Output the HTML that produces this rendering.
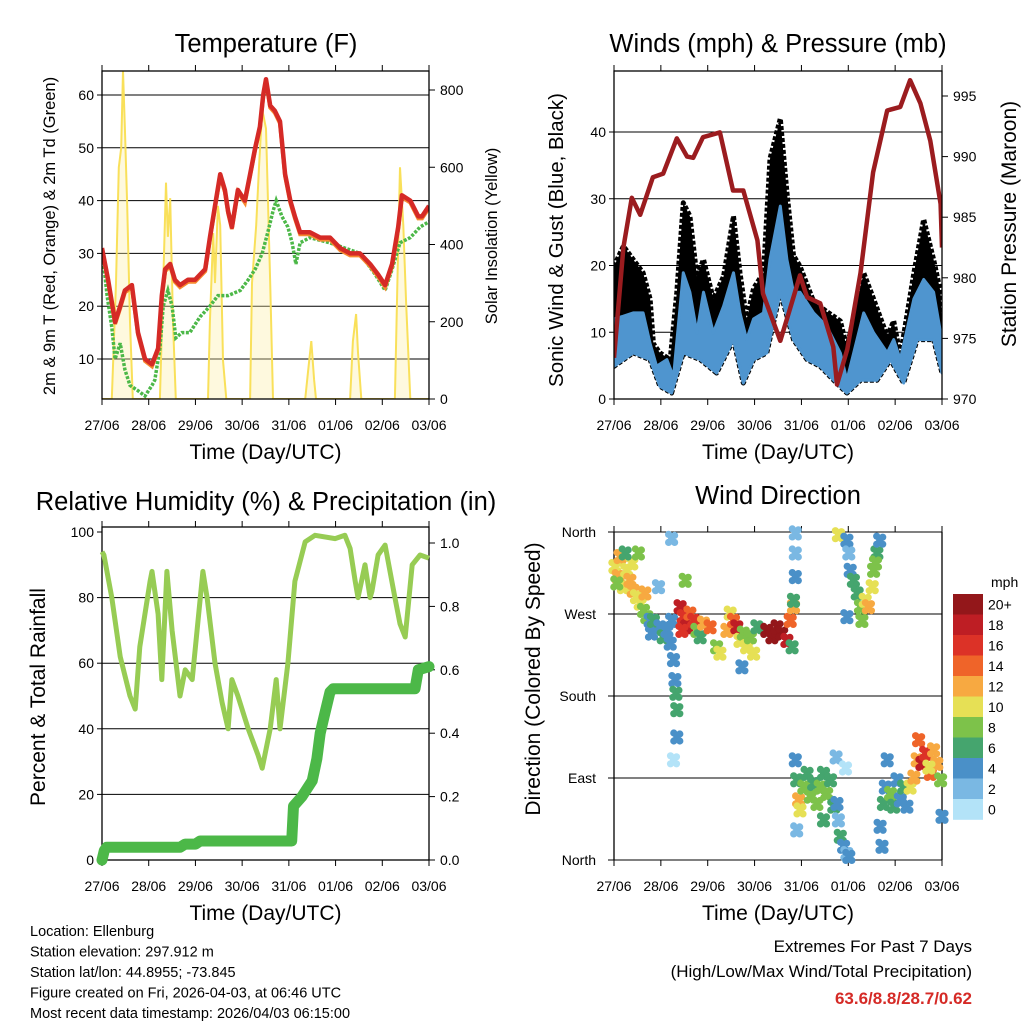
<!DOCTYPE html>
<html><head><meta charset="utf-8">
<style>
body{margin:0;background:#fff;font-family:"Liberation Sans",sans-serif;}
svg text{font-family:"Liberation Sans",sans-serif;fill:#000;}
</style></head>
<body>
<svg id="c" width="1024" height="1024" viewBox="0 0 1024 1024"></svg>
<script>
// ---- Temperature panel data ----
const tempT=[0,.13,.28,.39,.49,.64,.77,.92,1.07,1.2,1.28,1.35,1.46,1.56,1.67,1.84,1.99,2.21,2.31,2.42,2.53,2.63,2.7,2.78,2.91,3.06,3.17,3.28,3.38,3.45,3.51,3.6,3.7,3.81,3.92,4.03,4.13,4.24,4.45,4.67,4.88,5.1,5.31,5.52,5.74,5.91,6.06,6.21,6.34,6.42,6.6,6.77,6.85,7.0];
const tempV=[31,25,17,20,23,24,15,10,9,12,22,27,28,25,24,25,25,27,33,39,45,42,38,35,42,40,45,50,54,60,63,58,57,55,45,40,37,34,34,33,33,31,30,30,28,26,24,28,35,41,40,37,37,39];
const dewT=[0,.11,.21,.28,.39,.49,.6,.77,.92,1.07,1.13,1.24,1.31,1.41,1.5,1.58,1.71,1.88,2.1,2.31,2.48,2.7,2.96,3.13,3.28,3.43,3.55,3.66,3.73,3.85,3.98,4.07,4.15,4.24,4.45,4.88,5.2,5.52,5.85,6.06,6.21,6.38,6.6,6.81,7.0];
const dewV=[31,22,16,10,13,8,5,4,3,5,6,12,20,23,20,14,15,15,18,20,22,22,23,25,27,30,34,38,40,37,35,32,28,32,33,32,31,30,26,23,27,32,33,35,36];
const solarT=[0,.21,.3,.36,.41,.45,.49,.54,.6,.66,1.24,1.31,1.37,1.41,1.46,1.52,1.58,2.27,2.31,2.38,2.42,2.48,2.53,2.59,2.66,3.17,3.21,3.3,3.36,3.43,3.51,3.6,3.66,4.35,4.41,4.48,4.54,4.58,5.31,5.37,5.44,5.48,5.55,6.27,6.34,6.38,6.45,6.51,6.6,7.0];
const solarV=[0,0,300,600,650,850,700,500,200,0,0,300,560,420,520,200,0,0,200,430,300,500,450,100,0,0,300,450,600,750,700,300,0,0,70,150,50,0,0,150,220,120,0,0,400,600,450,250,0,0];
const tempTicks=[10,20,30,40,50,60];
const solarTicks=[0,200,400,600,800];
const dayLabels=["27/06","28/06","29/06","30/06","31/06","01/06","02/06","03/06"];
// ---- Winds panel data ----
const gustT=[0,0.2,0.41,0.62,0.77,0.84,0.98,1.2,1.34,1.48,1.62,1.77,1.91,2.12,2.34,2.55,2.69,2.83,2.98,3.19,3.33,3.55,3.69,3.83,3.97,4.26,4.54,4.83,4.97,5.33,5.54,5.83,5.97,6.11,6.4,6.61,6.82,6.97,7.0];
const gustV=[19.9,22.9,20.9,18.9,15,8.3,6.9,5.9,16,29.4,27.4,18.4,20.9,15,18.4,27.4,18.9,11.9,16.6,18.9,36,42,31,21.5,19.9,14.6,13.1,11.7,7.7,18.9,15,9.4,11.7,6.5,18.9,26.9,20.9,16,10.9];
const windHiT=[0,0.2,0.41,0.62,0.77,0.91,1.13,1.27,1.48,1.62,1.77,1.91,2.12,2.34,2.55,2.69,2.83,2.98,3.19,3.33,3.55,3.69,3.83,3.97,4.26,4.54,4.83,4.97,5.33,5.54,5.83,5.97,6.11,6.4,6.61,6.82,6.97];
const windHiV=[12,12.4,12.9,12.9,8.3,4.9,5.9,3.3,18.9,16,9.9,16,9.9,13.9,18.9,12.9,8.9,12,12.9,20.9,28.9,20.9,16,16,12.9,10.9,6.9,2.8,12.9,9.9,6.9,8.9,5.9,15,17.9,16,9.9];
const windLoT=[0,0.41,0.77,0.98,1.23,1.48,1.84,2.19,2.55,2.76,2.98,3.26,3.55,3.83,4.12,4.40,4.69,4.97,5.26,5.61,5.90,6.18,6.47,6.82,7.0];
const windLoV=[4.9,6.9,5.9,1.9,0.9,6.9,5.9,3.9,8.9,2.4,5.9,6.9,16,8.9,5.9,4.9,2.8,0.9,2.8,2.8,5.9,2.4,8.9,8.9,3.9];
const presT=[0,0.2,0.38,0.56,0.83,1.05,1.34,1.56,1.69,1.90,2.26,2.54,2.76,3.06,3.18,3.55,3.76,3.97,4.12,4.40,4.68,4.76,4.98,5.26,5.53,5.83,6.11,6.32,6.54,6.75,6.97,7.0];
const presV=[973.4,982.5,986.6,985.2,988.3,988.6,991.5,990,989.9,991.6,992,987.2,987.2,983.1,978.7,974.8,977.5,980.2,978.4,977.9,974.3,971.2,974.1,980.4,988.7,993.8,994.1,996.3,994.4,991.3,986.1,982.5];
const windTicks=[0,10,20,30,40];
const presTicks=[970,975,980,985,990,995];
// ---- RH panel data ----
const rhT=[0,.04,.21,.39,.6,.71,.81,1.03,1.07,1.2,1.28,1.39,1.5,1.67,1.78,1.93,2.16,2.25,2.42,2.57,2.7,2.78,2.91,3.13,3.34,3.43,3.6,3.73,3.81,3.98,4.13,4.35,4.56,4.99,5.2,5.31,5.42,5.48,5.63,5.74,5.78,5.91,6.06,6.27,6.38,6.49,6.64,6.81,7.0];
const rhV=[94,93,80,62,50,46,65,85,88,75,55,88,70,50,58,55,88,80,60,48,40,55,50,40,32,28,40,55,40,60,85,97,99,98,99,95,85,80,90,80,82,93,96,80,72,68,90,93,92];
const rainT=[0,.05,.1,1.67,1.78,2.0,2.1,4.06,4.1,4.28,4.5,4.6,4.67,4.75,4.88,4.95,6.7,6.77,7.0];
const rainV=[0,.03,.04,.04,.05,.05,.06,.06,.17,.2,.25,.32,.4,.45,.53,.54,.54,.6,.61];
const rhTicks=[0,20,40,60,80,100];
const rainTicks=[0,0.2,0.4,0.6,0.8,1.0];
// ---- Wind direction data ----
const wdT=[.02,.09,.13,.20,.27,.34,.38,.41,.48,.52,.56,.63,.66,.70,.24,.06,
.77,.80,.84,.95,.98,1.05,1.13,1.20,1.23,1.27,1.30,1.32,1.34,1.34,1.27,1.23,
1.41,1.48,1.55,1.62,1.45,1.70,1.77,1.84,1.52,
1.91,2.05,2.19,2.26,2.41,2.48,2.55,2.62,2.69,2.76,2.83,2.91,2.98,3.05,2.73,
3.26,3.37,3.48,3.58,3.69,3.76,3.80,3.83,
3.87,3.87,3.87,3.83,
4.79,4.97,5.01,5.04,5.11,5.19,5.26,5.29,5.36,5.43,5.51,5.54,5.61,5.67,5.58,4.97,
3.90,3.94,3.97,4.05,4.12,4.19,4.26,4.33,4.40,4.47,4.54,4.62,4.69,4.47,3.87,3.90,
4.76,4.79,4.83,4.90,4.97,5.01,4.74,4.94,
5.68,5.72,5.75,5.79,5.83,5.90,5.97,6.04,6.11,6.18,6.25,6.32,6.40,6.47,
6.50,6.57,6.65,6.75,6.82,6.89,6.97,7.0,6.72];
const wdDeg=[322,311,333,300,318,307,326,296,289,337,282,274,293,267,337,304,
263,249,263,300,256,245,252,238,263,220,198,183,165,135,110,353,
278,267,256,271,252,263,252,245,307,
260,256,234,227,252,271,263,256,241,249,234,245,227,256,212,
252,245,256,249,241,263,234,278,
359,337,311,285,
357,351,337,318,307,293,278,263,285,278,300,318,337,351,326,267,
88,66,55,80,95,70,84,62,80,95,73,88,59,44,110,33,
62,44,26,15,7,4,113,101,
37,15,62,80,110,73,59,88,66,80,59,80,91,110,
132,106,117,95,121,106,88,48,102];
const wdSpd=[10,12,12,10,10,12,10,12,10,8,10,8,12,8,6,8,
4,4,6,2,4,6,4,4,4,4,4,6,6,4,0,2,
18,16,18,14,16,16,8,6,8,
12,14,8,10,12,10,14,18,10,8,10,8,10,6,4,
20,20,20,20,18,14,6,12,
2,2,4,6,
10,4,2,4,6,6,8,8,10,12,10,8,6,4,8,4,
6,12,10,8,6,8,6,8,8,6,8,6,6,6,4,2,
4,2,6,4,2,4,2,0,
4,4,6,4,4,8,6,4,4,6,4,10,12,12,
14,18,16,14,12,12,8,4,10];
const dirLabels=["North","East","South","West","North"];
const speedLabels=["0","2","4","6","8","10","12","14","16","18","20+"];
const speedColors=["#b3e3f8","#7ab8e3","#4a90c8","#45a56e","#7dc24a","#e6e055","#f7a941","#ef6429","#dc3227","#be1e24","#93171a"];

const NS="http://www.w3.org/2000/svg";
const svg=document.getElementById('c');
function mk(tag,attrs,parent){const e=document.createElementNS(NS,tag);for(const k in attrs)e.setAttribute(k,attrs[k]);(parent||svg).appendChild(e);return e;}
function txt(x,y,s,size,anchor,parent,rot){const e=mk('text',{x:x,y:y,'font-size':size,'text-anchor':anchor||'middle'},parent);if(rot)e.setAttribute('transform','rotate(-90 '+x+' '+y+')');e.textContent=s;return e;}
function lin(a,b,c,d){return(v)=>c+(v-a)*(d-c)/(b-a);}
function pathOf(T,V,X,Y){let d='';for(let i=0;i<T.length;i++)d+=(i?'L':'M')+X(T[i]).toFixed(1)+','+Y(V[i]).toFixed(1);return d;}

function panel(name){
  const g=mk('g',{});
  
  
  return g;
}
function xAxis(g,L,R,T,B,X){
  for(let i=0;i<dayLabels.length;i++){const x=X(i);
    mk('line',{x1:x,y1:B,x2:x,y2:B+6,stroke:'#000'},g);
    mk('line',{x1:x,y1:T,x2:x,y2:T-6,stroke:'#000'},g);
    const t=txt(x,B+31,dayLabels[i],14,'middle',g);
    
    }
  const xt=txt((L+R)/2,B+60,'Time (Day/UTC)',21,'middle',g);
  
  
}
function frameAndX(g,L,R,T,B,X){
  mk('rect',{x:L,y:T,width:R-L,height:B-T,fill:'none',stroke:'#000','stroke-width':1.3},g);
  xAxis(g,L,R,T,B,X);
}

// ===== Temperature =====
{
const L=102,R=429,T=71,B=399;
const g=panel('temperature-panel');
const X=lin(0,7,L,R), Y=lin(10,60,359,95), YS=lin(0,800,399,90);
const cp=mk('clipPath',{id:'cp1'},g);mk('rect',{x:L,y:T,width:R-L,height:B-T},cp);
for(const v of tempTicks){const y=Y(v);mk('line',{x1:L,y1:y,x2:R,y2:y,stroke:'#000','stroke-width':1},g);
 mk('line',{x1:L,y1:y,x2:L-5,y2:y,stroke:'#000'},g);txt(L-8,y+5,String(v),14,'end',g);}
for(const v of solarTicks){const y=YS(v);mk('line',{x1:R,y1:y,x2:R+6,y2:y,stroke:'#000'},g);txt(R+11,y+5,String(v),14,'start',g);}
const cl=mk('g',{'clip-path':'url(#cp1)'},g);
const sol=mk('path',{d:pathOf(solarT,solarV,X,YS),fill:'#fbeea0','fill-opacity':0.35,stroke:'#f9e05a','stroke-width':2},cl);


const dw=mk('path',{d:pathOf(dewT,dewV,X,Y),fill:'none',stroke:'#4cb848','stroke-width':3.5,'stroke-dasharray':'3 1.5'},cl);


const or=mk('path',{d:pathOf(tempT,tempV,X,(v)=>Y(v)+2),fill:'none',stroke:'#f7892f','stroke-width':4},cl);


const rd=mk('path',{d:pathOf(tempT,tempV,X,Y),fill:'none',stroke:'#d52a26','stroke-width':4.5,'stroke-linejoin':'round'},cl);


frameAndX(g,L,R,T,B,X);
const t=txt(266,52,'Temperature (F)',25.5,'middle',g);
const a=txt(55,236,'2m & 9m T (Red, Orange) & 2m Td (Green)',16.5,'middle',g,true);
const b=txt(497,236,'Solar Insolation (Yellow)',16.5,'middle',g,true);
}

// ===== Winds =====
{
const L=614,R=942,T=71,B=399;
const g=panel('winds-panel');
const X=lin(0,7,L,R), Y=lin(0,40,399,132), YP=lin(970,995,399,96);
const cp=mk('clipPath',{id:'cp2'},g);mk('rect',{x:L,y:T,width:R-L,height:B-T},cp);
for(const v of windTicks){const y=Y(v);if(v>0)mk('line',{x1:L,y1:y,x2:R,y2:y,stroke:'#000'},g);
 mk('line',{x1:L,y1:y,x2:L-5,y2:y,stroke:'#000'},g);txt(L-8,y+5,String(v),14,'end',g);}
for(const v of presTicks){const y=YP(v);mk('line',{x1:R,y1:y,x2:R+6,y2:y,stroke:'#000'},g);txt(R+11,y+5,String(v),14,'start',g);}
const cl=mk('g',{'clip-path':'url(#cp2)'},g);
let d=pathOf(gustT,gustV,X,Y);for(let i=windLoT.length-1;i>=0;i--)d+='L'+X(windLoT[i]).toFixed(1)+','+Y(windLoV[i]).toFixed(1);
const gb=mk('path',{d:d+'Z',fill:'#000',stroke:'#000','stroke-width':5,'stroke-dasharray':'4 2','stroke-linejoin':'round'},cl);


let d2=pathOf(windHiT,windHiV,X,Y);for(let i=windLoT.length-1;i>=0;i--)d2+='L'+X(windLoT[i]).toFixed(1)+','+Y(windLoV[i]).toFixed(1);
const wb=mk('path',{d:d2+'Z',fill:'#4f95cf',stroke:'#4f95cf','stroke-width':3,'stroke-linejoin':'round'},cl);


const pl=mk('path',{d:pathOf(presT,presV,X,YP),fill:'none',stroke:'#9b1c1f','stroke-width':4.5,'stroke-linejoin':'round'},cl);


frameAndX(g,L,R,T,B,X);
const t=txt(778,52,'Winds (mph) & Pressure (mb)',25.5,'middle',g);
const a=txt(563,240,'Sonic Wind & Gust (Blue, Black)',20.5,'middle',g,true);
const b=txt(1016,224,'Station Pressure (Maroon)',21,'middle',g,true);
}

// ===== RH =====
{
const L=102,R=429,T=527,B=860;
const g=panel('humidity-panel');
const X=lin(0,7,L,R), Y=lin(0,100,860,532), YR=lin(0,1,860,543);
const cp=mk('clipPath',{id:'cp3'},g);mk('rect',{x:L-6,y:T,width:R-L+12,height:B-T+6},cp);
for(const v of rhTicks){const y=Y(v);if(v>0&&v<100)mk('line',{x1:L,y1:y,x2:R,y2:y,stroke:'#000'},g);
 mk('line',{x1:L,y1:y,x2:L-5,y2:y,stroke:'#000'},g);txt(L-8,y+5,String(v),14,'end',g);}
for(const v of rainTicks){const y=YR(v);mk('line',{x1:R,y1:y,x2:R+6,y2:y,stroke:'#000'},g);txt(R+11,y+5,v.toFixed(1),14,'start',g);}
frameAndX(g,L,R,T,B,X);
const cl=mk('g',{'clip-path':'url(#cp3)'},g);
const rl=mk('path',{d:pathOf(rhT,rhV,X,Y),fill:'none',stroke:'#97cc54','stroke-width':5,'stroke-linejoin':'round'},cl);


const pr=mk('path',{d:pathOf(rainT,rainV,X,YR),fill:'none',stroke:'#4cb848','stroke-width':11,'stroke-linejoin':'round','stroke-linecap':'round'},cl);


const t=txt(266,510,'Relative Humidity (%) & Precipitation (in)',25.5,'middle',g);
const a=txt(45,697,'Percent & Total Rainfall',21,'middle',g,true);
}

// ===== Wind direction =====
{
const L=614,R=942,T=532,B=860;
const g=panel('wind-direction-panel');
const X=lin(0,7,L,R), Y=lin(0,360,860,532);
for(let i=0;i<dirLabels.length;i++){const y=Y(i*90);mk('line',{x1:L-6,y1:y,x2:R,y2:y,stroke:'#000'},g);
 txt(L-18,y+5,dirLabels[i],14,'end',g);}
mk('line',{x1:L,y1:T,x2:L,y2:B,stroke:'#000','stroke-width':1.3},g);
mk('line',{x1:R,y1:T,x2:R,y2:B,stroke:'#000','stroke-width':1.3},g);
xAxis(g,L,R,T,B,X);
const pts=mk('g',{},g);
const blob=[[0,0],[-3,-4],[3,4],[3,-3],[-3,4]];
for(let i=0;i<wdT.length;i++){
 const ci=Math.min(10,Math.floor(wdSpd[i]/2));
 const cx=X(wdT[i]), cy=Y(wdDeg[i]);
 const pg=mk('g',{fill:speedColors[ci]},pts);
 
 
 for(const o of blob) mk('circle',{cx:(cx+o[0]).toFixed(1),cy:(cy+o[1]).toFixed(1),r:3.6},pg);
}
const cb=mk('g',{},g);


const top=594,h=20.5;
for(let i=0;i<speedColors.length;i++){const k=speedColors.length-1-i;
 mk('rect',{x:953,y:top+i*h,width:30,height:h+0.3,fill:speedColors[k]},cb);
 txt(988,top+i*h+h/2+5,speedLabels[k],14,'start',cb);}
txt(991,587,'mph',14,'start',cb);
const t=txt(778,504,'Wind Direction',25.5,'middle',g);
const a=txt(540,679,'Direction (Colored By Speed)',21,'middle',g,true);
}

// ===== Footer =====
{
const g=mk('g',{});


const lines=["Location: Ellenburg","Station elevation: 297.912 m","Station lat/lon: 44.8955; -73.845","Figure created on Fri, 2026-04-03, at 06:46 UTC","Most recent data timestamp: 2026/04/03 06:15:00"];
lines.forEach((s,i)=>txt(30,936+i*20.5,s,14.5,'start',g));
const e=mk('g',{});


txt(972,952,'Extremes For Past 7 Days',17,'end',e);
txt(972,977,'(High/Low/Max Wind/Total Precipitation)',17,'end',e);
const v=txt(972,1004,'63.6/8.8/28.7/0.62',17,'end',e);v.setAttribute('font-weight','bold');v.style.fill='#d52a26';
}
</script>
</body></html>
